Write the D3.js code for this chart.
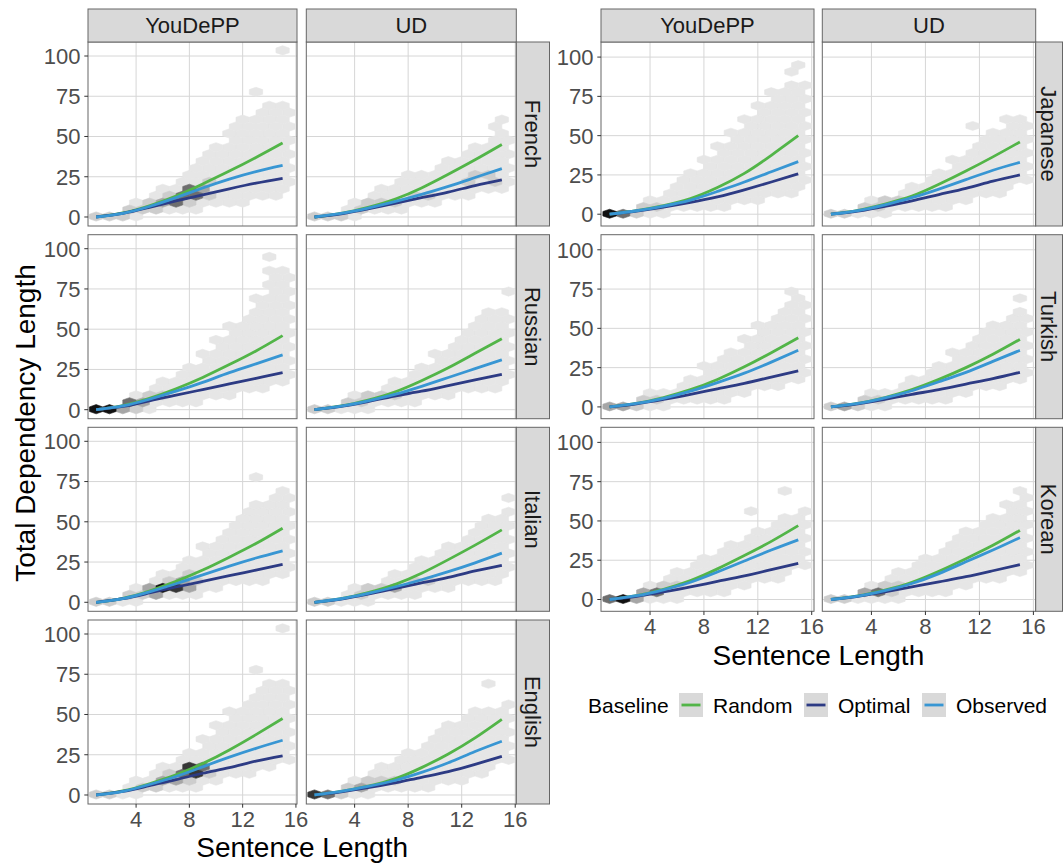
<!DOCTYPE html>
<html><head><meta charset="utf-8">
<script src="https://cdn.jsdelivr.net/npm/d3@7"></script>
<style>
body{margin:0;background:#fff}
svg{display:block}
text{font-family:"Liberation Sans",Arial,Helvetica,sans-serif}
</style>
</head><body>
<svg id="chart" width="1063" height="864"></svg>
<script>
// ---------------- DATA ----------------
const sentLen = [1, 3, 5, 7, 9, 11, 13, 15];
const languagesLeft = ["French", "Russian", "Italian", "English"];
const languagesRight = ["Japanese", "Turkish", "Korean"];
const corpora = ["YouDePP", "UD"];
const baselines = ["Random", "Optimal", "Observed"];
const yTicks = [0, 25, 50, 75, 100];
const xTicks = [4, 8, 12, 16];
const hexLengths = [1,2,3,4,5,6,7,8,9,10,11,12,13,14,15];

// panel order: French-YouDePP, French-UD, Russian-YouDePP, Russian-UD, Italian-YouDePP, Italian-UD,
// English-YouDePP, English-UD, Japanese-YouDePP, Japanese-UD, Turkish-YouDePP, Turkish-UD, Korean-YouDePP, Korean-UD
const randomVals = [
  [0, 2.5, 7, 13, 20.5, 28.5, 37, 46],
  [0, 2.3, 6, 11, 18, 26.5, 35.5, 45],
  [0, 2.5, 7, 13, 20, 28, 36.5, 46],
  [0, 2.3, 6, 11, 18, 26, 35, 44],
  [0, 2.5, 7, 13, 20, 28, 36.5, 46],
  [0, 2.3, 6, 11, 18, 26.5, 35.5, 45],
  [0, 2.5, 7, 12.5, 19.5, 28, 37.5, 47.5],
  [0, 2.3, 5.5, 10, 17, 25.5, 35.5, 47],
  [0, 2.3, 5.5, 10, 17, 26, 37.5, 50],
  [0, 2.5, 6.5, 11.5, 19, 27.5, 36.5, 46],
  [0, 2.3, 6, 11, 17.5, 25.5, 34.5, 44],
  [0, 2.3, 6, 11, 17.5, 25, 33.5, 43],
  [0, 2.5, 6.5, 12, 19.5, 28, 37, 47],
  [0, 2.3, 6, 11, 18, 26, 34.5, 44]
];
const optimalVals = [
  [0, 2.2, 6, 10, 13.8, 17.5, 21, 24],
  [0, 2, 5, 8.5, 12, 15.5, 19.5, 23],
  [0, 2, 5.5, 9, 12.5, 16, 19.5, 23],
  [0, 2, 5, 8.5, 11.5, 15, 18.5, 22],
  [0, 2.2, 5.8, 9.5, 13, 16.5, 20, 23.5],
  [0, 2, 5, 8.5, 12, 15.5, 19.5, 23],
  [0, 2.2, 5.8, 9.5, 13.5, 17, 21, 24.3],
  [0, 2, 4.5, 7.5, 11, 14.5, 19, 24],
  [0, 2, 4.5, 7.5, 11, 15.5, 20.5, 25.7],
  [0, 2, 5, 8.5, 12.5, 16.5, 21, 25],
  [0, 2, 4.8, 8, 11.5, 15, 19, 23],
  [0, 2, 4.8, 8, 11, 14.5, 18, 22],
  [0, 2, 4.8, 8, 11.5, 15, 19, 23],
  [0, 2, 4.8, 8, 11.3, 14.5, 18.3, 22.2]
];
const observedVals = [
  [0, 2.3, 6.5, 12, 18, 23.5, 28.2, 32],
  [0, 2.2, 5.5, 9.5, 14, 19, 24.5, 30],
  [0, 2.3, 6.5, 11.5, 17, 23, 28.5, 34],
  [0, 2.2, 5.5, 9.5, 14.5, 20, 25.5, 31],
  [0, 2.3, 6.5, 11.5, 17, 22.5, 27.5, 32],
  [0, 2.2, 5.5, 9.5, 14, 19, 24.5, 30.5],
  [0, 2.3, 6.5, 11.5, 17.5, 23.5, 29, 34],
  [0, 2.2, 5.3, 9, 14, 20, 27, 33.4],
  [0, 2.2, 5.2, 9, 14.5, 20.5, 27, 33.5],
  [0, 2.3, 6, 10.5, 16, 22, 28, 33],
  [0, 2.2, 5.5, 10, 15.5, 21.5, 28.5, 36],
  [0, 2.2, 5.7, 10.3, 16, 22, 29, 36],
  [0, 2.4, 6.2, 11, 17.5, 24.5, 31.5, 38],
  [0, 2.2, 5.7, 10.2, 16.5, 24, 31.5, 39.4]
];
// upper / lower extent of the hexagon cloud for sentence length 1..15
const hexUpper = [
  [0, 2, 5, 9, 13, 17, 22, 30, 37, 44, 55, 60, 66, 70, 70],
  [0, 2, 5, 8, 12, 17, 20, 24, 26, 29, 33, 38, 42, 46, 50],
  [0, 1, 4, 8, 12, 16, 22, 28, 35, 42, 50, 58, 68, 80, 85],
  [0, 2, 4, 7, 10, 14, 18, 22, 27, 33, 40, 48, 55, 62, 62],
  [0, 2, 5, 8, 12, 16, 21, 27, 33, 40, 48, 56, 60, 66, 70],
  [0, 2, 4, 7, 10, 14, 18, 22, 26, 30, 35, 40, 46, 52, 56],
  [0, 2, 5, 8, 12, 17, 22, 28, 34, 42, 50, 58, 64, 68, 70],
  [0, 2, 5, 9, 13, 17, 21, 26, 32, 40, 43, 46, 50, 54, 57],
  [0, 2, 5, 9, 14, 20, 26, 34, 42, 50, 60, 70, 76, 80, 82],
  [0, 2, 4, 7, 10, 14, 18, 22, 27, 33, 40, 47, 52, 56, 60],
  [0, 2, 4, 7, 11, 15, 19, 24, 30, 36, 43, 50, 57, 63, 68],
  [0, 2, 4, 7, 10, 14, 18, 23, 28, 33, 40, 46, 52, 58, 62],
  [0, 2, 6, 10, 14, 17, 21, 25, 30, 36, 40, 44, 48, 52, 55],
  [0, 2, 5, 9, 14, 18, 23, 27, 31, 37, 42, 46, 54, 62, 66]
];
const hexLower = [
  [0, 0, 0, 2, 3, 4, 5, 6, 8, 9, 10, 10, 12, 15, 17],
  [0, 0, 1, 2, 3, 4, 5, 7, 9, 11, 13, 15, 16, 17, 18],
  [0, 0, 0, 1, 2, 3, 4, 5, 7, 9, 11, 13, 15, 17, 19],
  [0, 0, 0, 1, 2, 3, 4, 5, 7, 9, 10, 12, 14, 15, 17],
  [0, 0, 0, 2, 3, 4, 5, 6, 8, 10, 12, 13, 15, 17, 19],
  [0, 0, 0, 1, 2, 3, 4, 5, 7, 9, 10, 12, 14, 15, 17],
  [0, 0, 0, 2, 3, 4, 5, 6, 8, 10, 12, 14, 16, 18, 20],
  [0, 0, 0, 1, 2, 3, 4, 5, 6, 7, 9, 11, 14, 17, 20],
  [0, 0, 0, 1, 2, 3, 4, 5, 6, 7, 9, 11, 13, 15, 17],
  [0, 0, 0, 1, 2, 3, 4, 5, 6, 8, 10, 12, 15, 18, 20],
  [0, 0, 0, 1, 2, 3, 4, 5, 6, 8, 10, 12, 14, 16, 18],
  [0, 0, 0, 1, 2, 3, 4, 5, 6, 8, 10, 12, 14, 16, 18],
  [0, 0, 0, 1, 2, 2, 3, 4, 6, 8, 10, 12, 15, 18, 21],
  [0, 0, 0, 1, 1, 2, 3, 4, 6, 8, 10, 12, 14, 16, 17]
];
// isolated outlying hexagons [sentence length, dependency length]
const hexExtra = [
  [[15, 103.5], [13, 77.7]],
  [[15, 60], [14.5, 55.8]],
  [[14, 95.2], [13.5, 86.3]],
  [[15, 73.4]],
  [[13, 77.7]],
  [[15, 65]],
  [[15, 103.5], [13, 77.7]],
  [[14, 69.1]],
  [[15, 94.2], [14.5, 89.9], [13, 77.7]],
  [[11.5, 55.8], [14, 60.5]],
  [[14.5, 73.4]],
  [[14.5, 68]],
  [[14, 69.1], [11.5, 56.2]],
  [[14.5, 68]]
];
// darker (denser) hexagons: [sentence length, dependency length, density level 1-5]
const hexShade = [
  [[6,8.9,2],[7,8.9,3],[7.5,13.2,3],[8,17.5,3],[8.5,13.2,3],[9,17.5,2],[6.5,13.2,1],[5.5,4.6,1],[4.5,4.6,1],[3.5,4.6,1],[5,8.9,1],[8,8.9,1],[9.5,13.2,1],[9.5,21.8,1],[1,0.3,1],[2,0.3,1],[3,0.3,1]],
  [[1,0,1],[2,0,1],[3,0,1],[4.5,4.6,1],[5,8.9,1],[6,8.9,1],[7,8.9,1],[8,13,1],[9,13,1],[12.5,21.8,1],[13,26.1,1],[14,26.1,1],[14.5,21.8,1]],
  [[1,0,5],[2,0,5],[3,0,2],[3.5,4.6,3],[4.5,4.6,2],[5,8.9,1],[6,8.9,1],[4,0.3,1]],
  [[1,0,1],[2,0,1],[3.5,4.6,1],[4.5,4.6,1],[5,8.9,1],[6,8.9,1],[7,8.9,1]],
  [[6,8.9,5],[7,8.9,4],[5.5,4.6,2],[5,8.9,2],[6.5,13.2,1],[4.5,4.6,1],[3.5,4.6,1],[8,8.9,2],[7.5,13.2,2],[8.5,13.2,1],[8,17.5,1],[2,0,1],[1,0,1]],
  [[1,0,1],[2,0,1],[4.5,4.6,1],[5,8.9,1],[6,8.9,1],[7,8.9,2],[8,13,1],[9,13,1]],
  [[8,17.5,4],[8.5,13.2,4],[9,17.5,3],[7.5,13.2,3],[7,8.9,2],[6,8.9,2],[9.5,13.2,1],[6.5,13.2,1],[5.5,4.6,1],[4.5,4.6,1],[1,0,1],[2,0,1],[8,8.9,1]],
  [[1,0,4],[2,0,3],[3,0,1],[3.5,4.6,1],[4.5,4.6,2],[5,8.9,1],[6,8.9,1],[7,8.9,1]],
  [[1,0,5],[2,0,3],[3,0,1],[3.5,4.6,1],[4.5,4.6,1]],
  [[1,0,1],[2,0,1],[3.5,4.6,1],[4.5,4.6,1],[5,8.9,1],[6,8.9,1]],
  [[1,0,2],[2,0,2],[3,0,1],[3.5,4.6,1],[4.5,4.6,1]],
  [[1,0,1],[2,0,2],[3,0,1],[3.5,4.6,1],[4.5,4.6,1]],
  [[1,0,3],[2,0,5],[3,0,2],[3.5,4.6,2],[4.5,4.6,3],[5,8.9,1],[6,8.9,1]],
  [[1,0,1],[2,0,1],[3.5,4.6,2],[4.5,4.6,3],[5.5,4.6,1],[5,8.9,1],[6,8.9,1]]
];

// ---------------- STYLE / LAYOUT ----------------
const colors = {Random: "#52b548", Optimal: "#2d3b84", Observed: "#3896d3"};
const shadeColors = ["#e6e6e6", "#cdcdcd", "#a6a6a6", "#6e6e6e", "#363636", "#111111"];
const rowSpacing = 4.3, rowOffset = 0.3;

const rowsY = [[42, 226], [234.7, 418.7], [427.3, 611.3], [620, 804]];
const grids = [
  {langs: languagesLeft, start: 0, cols: [[88, 297], [306.3, 516.3]], strip: [516.3, 549.5],
   xDom: [0.39, 16.08], yDom: [-5.6, 108.7], titleY: 856.5},
  {langs: languagesRight, start: 8, cols: [[601, 814], [822.3, 1035.7]], strip: [1035.7, 1062.5],
   xDom: [0.36, 16.17], yDom: [-7.5, 109.6], titleY: 665}
];

const svg = d3.select("#chart");
const defs = svg.append("defs");
let clipId = 0;

function snap(x, y) {
  const r = Math.max(0, Math.round((y - rowOffset) / rowSpacing));
  const cy = rowOffset + r * rowSpacing;
  let cx;
  if (r % 2 === 0) cx = Math.round(x);
  else cx = Math.floor(x) + 0.5;
  return {cx, cy, r};
}

function buildHexes(p) {
  const cells = new Map();
  hexLengths.forEach((len, i) => {
    const lo = hexLower[p][i], hi = hexUpper[p][i];
    for (let r = 0; r < 30; r++) {
      const cy = rowOffset + r * rowSpacing;
      if (cy + rowSpacing / 2 >= lo && cy - rowSpacing / 2 <= hi) {
        const cx = r % 2 === 0 ? len : len + 0.5;
        cells.set(cx + "_" + r, {cx, cy, level: 0});
      }
    }
  });
  hexExtra[p].forEach(([x, y]) => {
    const s = snap(x, y);
    cells.set(s.cx + "_" + s.r, {cx: s.cx, cy: s.cy, level: 0});
  });
  hexShade[p].forEach(([x, y, lv]) => {
    const s = snap(x, y);
    cells.set(s.cx + "_" + s.r, {cx: s.cx, cy: s.cy, level: lv});
  });
  return Array.from(cells.values()).sort((a, b) => a.level - b.level);
}

grids.forEach(g => {
  const nRows = g.langs.length;
  g.langs.forEach((lang, ri) => {
    const [y0, y1] = rowsY[ri];
    const y = d3.scaleLinear().domain(g.yDom).range([y1, y0]);
    corpora.forEach((corp, ci) => {
      const [x0, x1] = g.cols[ci];
      const x = d3.scaleLinear().domain(g.xDom).range([x0, x1]);
      const p = g.start + ri * 2 + ci;
      const panel = svg.append("g");
      const id = "clip" + (clipId++);
      defs.append("clipPath").attr("id", id).append("rect")
        .attr("x", x0).attr("y", y0).attr("width", x1 - x0).attr("height", y1 - y0);
      panel.append("rect").attr("x", x0).attr("y", y0).attr("width", x1 - x0).attr("height", y1 - y0)
        .attr("fill", "#fff");
      const inner = panel.append("g").attr("clip-path", `url(#${id})`);
      // grid
      inner.selectAll(".gx").data(xTicks).join("line")
        .attr("x1", d => x(d)).attr("x2", d => x(d)).attr("y1", y0).attr("y2", y1)
        .attr("stroke", "#d6d6d6").attr("stroke-width", 1);
      inner.selectAll(".gy").data(yTicks).join("line")
        .attr("y1", d => y(d)).attr("y2", d => y(d)).attr("x1", x0).attr("x2", x1)
        .attr("stroke", "#d6d6d6").attr("stroke-width", 1);
      // hexes
      const hw = 0.5, t = rowSpacing / 1.5;
      const hexPath = c => {
        const pts = [[c.cx, c.cy + t], [c.cx + hw, c.cy + t / 2], [c.cx + hw, c.cy - t / 2],
                     [c.cx, c.cy - t], [c.cx - hw, c.cy - t / 2], [c.cx - hw, c.cy + t / 2]];
        return "M" + pts.map(q => x(q[0]) + "," + y(q[1])).join("L") + "Z";
      };
      inner.selectAll(".hex").data(buildHexes(p)).join("path")
        .attr("d", hexPath)
        .attr("fill", d => shadeColors[d.level])
        .attr("stroke", d => shadeColors[d.level]).attr("stroke-width", 0.6);
      // lines
      const series = {Random: randomVals[p], Optimal: optimalVals[p], Observed: observedVals[p]};
      const line = d3.line().x((d, i) => x(sentLen[i])).y(d => y(d)).curve(d3.curveNatural);
      baselines.forEach(b => {
        inner.append("path").datum(series[b]).attr("d", line)
          .attr("fill", "none").attr("stroke", colors[b]).attr("stroke-width", 2.8)
          .attr("stroke-linecap", "butt");
      });
      // border
      panel.append("rect").attr("x", x0).attr("y", y0).attr("width", x1 - x0).attr("height", y1 - y0)
        .attr("fill", "none").attr("stroke", "#666").attr("stroke-width", 1);
      // top strips
      if (ri === 0) {
        panel.append("rect").attr("x", x0).attr("y", 9).attr("width", x1 - x0).attr("height", 33)
          .attr("fill", "#d9d9d9").attr("stroke", "#666").attr("stroke-width", 1);
        panel.append("text").attr("x", (x0 + x1) / 2).attr("y", 25.5).attr("dy", "0.36em")
          .attr("text-anchor", "middle").attr("font-size", 22).attr("fill", "#1a1a1a").text(corp);
      }
      // y axis
      if (ci === 0) {
        panel.selectAll(".yt").data(yTicks).join("line")
          .attr("x1", x0 - 3.7).attr("x2", x0).attr("y1", d => y(d)).attr("y2", d => y(d))
          .attr("stroke", "#333").attr("stroke-width", 1);
        panel.selectAll(".yl").data(yTicks).join("text")
          .attr("x", x0 - 7.5).attr("y", d => y(d)).attr("dy", "0.36em")
          .attr("text-anchor", "end").attr("font-size", 22).attr("fill", "#4d4d4d").text(d => d);
      }
      // x axis
      if (ri === nRows - 1) {
        panel.selectAll(".xt").data(xTicks).join("line")
          .attr("x1", d => x(d)).attr("x2", d => x(d)).attr("y1", y1).attr("y2", y1 + 3.7)
          .attr("stroke", "#333").attr("stroke-width", 1);
        panel.selectAll(".xl").data(xTicks).join("text")
          .attr("x", d => x(d)).attr("y", y1 + 23)
          .attr("text-anchor", "middle").attr("font-size", 22).attr("fill", "#4d4d4d").text(d => d);
      }
    });
    // right strip
    const [s0, s1] = g.strip;
    svg.append("rect").attr("x", s0).attr("y", y0).attr("width", s1 - s0).attr("height", y1 - y0)
      .attr("fill", "#d9d9d9").attr("stroke", "#666").attr("stroke-width", 1);
    svg.append("text").attr("transform", `translate(${(s0 + s1) / 2},${(y0 + y1) / 2}) rotate(90)`)
      .attr("dy", "0.36em").attr("text-anchor", "middle").attr("font-size", 22).attr("fill", "#1a1a1a")
      .text(lang);
  });
  // x title
  svg.append("text").attr("x", (g.cols[0][0] + g.cols[1][1]) / 2).attr("y", g.titleY)
    .attr("text-anchor", "middle").attr("font-size", 28).attr("fill", "#000").text("Sentence Length");
});

// y title
svg.append("text").attr("transform", `translate(35,423) rotate(-90)`)
  .attr("text-anchor", "middle").attr("font-size", 28).attr("fill", "#000").text("Total Dependency Length");

// legend
const legend = svg.append("g");
legend.append("text").attr("x", 588).attr("y", 705).attr("dy", "0.36em").attr("font-size", 21)
  .attr("fill", "#000").text("Baseline");
const keyX = [679, 804, 922];
baselines.forEach((b, i) => {
  legend.append("rect").attr("x", keyX[i]).attr("y", 693).attr("width", 24).attr("height", 24).attr("fill", "#d9d9d9");
  legend.append("line").attr("x1", keyX[i] + 2.5).attr("x2", keyX[i] + 21.5).attr("y1", 705).attr("y2", 705)
    .attr("stroke", colors[b]).attr("stroke-width", 2.8);
  legend.append("text").attr("x", keyX[i] + 34).attr("y", 705).attr("dy", "0.36em").attr("font-size", 21)
    .attr("fill", "#000").text(b);
});
</script>
</body></html>
